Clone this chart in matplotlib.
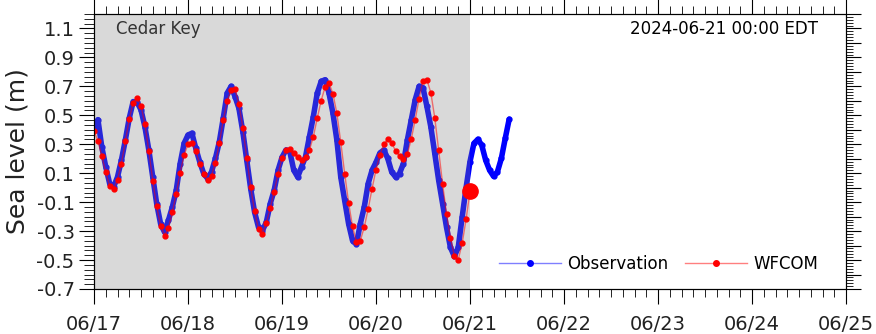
import numpy as np
import matplotlib
matplotlib.use('Agg')
import matplotlib.pyplot as plt
import matplotlib.dates as mdates
from matplotlib.lines import Line2D
from matplotlib.ticker import MultipleLocator
from datetime import datetime, timedelta

t0 = datetime(2024, 6, 17)

# observation, hourly readings from 06/17 00:00 (m)
obs = [0.42, 0.47, 0.28, 0.144, 0.028, 0.005, 0.074, 0.19, 0.329, 0.48,
       0.595, 0.59, 0.538, 0.42, 0.26, 0.074, -0.11, -0.249, -0.307, -0.226,
       -0.134, -0.018, 0.167, 0.306, 0.364, 0.376, 0.271, 0.178, 0.098, 0.063,
       0.109, 0.202, 0.317, 0.48, 0.653, 0.70, 0.63, 0.549, 0.387, 0.19,
       -0.006, -0.169, -0.273, -0.296, -0.238, -0.11, -0.018, 0.121, 0.21, 0.26,
       0.248, 0.121, 0.074, 0.144, 0.213, 0.352, 0.491, 0.653, 0.734, 0.746,
       0.653, 0.515, 0.33, 0.074, -0.088, -0.249, -0.365, -0.388, -0.249, -0.134,
       0.028, 0.121, 0.175, 0.24, 0.26, 0.202, 0.109, 0.074, 0.098, 0.167,
       0.329, 0.468, 0.607, 0.70, 0.69, 0.561, 0.42, 0.237, 0.051, -0.11,
       -0.273, -0.412, -0.475, -0.412, -0.203, 0.0, 0.18, 0.306, 0.334, 0.294,
       0.19, 0.121, 0.079, 0.109, 0.202, 0.341, 0.473]

# WFCOM model, hourly from 06/17 00:00 to 06/21 00:00 (m)
wfcom = [0.39, 0.324, 0.218, 0.107, 0.012, -0.009, 0.056, 0.167, 0.32, 0.475,
         0.588, 0.621, 0.567, 0.438, 0.253, 0.049, -0.129, -0.263, -0.331, -0.277,
         -0.169, -0.041, 0.102, 0.225, 0.301, 0.306, 0.251, 0.167, 0.093, 0.051,
         0.084, 0.172, 0.306, 0.468, 0.602, 0.672, 0.681, 0.577, 0.415, 0.206,
         0.005, -0.164, -0.284, -0.319, -0.243, -0.141, -0.027, 0.098, 0.204, 0.258,
         0.264, 0.237, 0.209, 0.19, 0.213, 0.26, 0.352, 0.48, 0.602, 0.695,
         0.723, 0.649, 0.515, 0.315, 0.098, -0.103, -0.268, -0.374, -0.365, -0.273,
         -0.148, -0.006, 0.124, 0.226, 0.302, 0.334, 0.308, 0.255, 0.218, 0.197,
         0.232, 0.336, 0.468, 0.616, 0.737, 0.746, 0.656, 0.484, 0.258, 0.026,
         -0.18, -0.347, -0.469, -0.497, -0.384, -0.219, -0.025]

t_obs = [t0 + timedelta(hours=i) for i in range(len(obs))]
t_mod = [t0 + timedelta(hours=i) for i in range(len(wfcom))]
t_now = datetime(2024, 6, 21)
t_end = datetime(2024, 6, 25)

fig = plt.figure(figsize=(8.76, 3.34), dpi=100)
ax = fig.add_axes([94/876, 1-289/334, (846-94)/876, (289-14)/334])

# observation band
ax.plot(t_obs, obs, color='blue', lw=4, solid_capstyle='round', zorder=2)
ax.plot(t_obs, obs, 'o', color='blue', ms=3.5, zorder=2)

# hindcast shading, drawn over the obs
ax.axvspan(t0, t_now, color='#838383', alpha=0.3, lw=0, zorder=2.5)

# model
ax.plot(t_mod, wfcom, color='red', alpha=0.5, lw=1, zorder=3)
ax.plot(t_mod, wfcom, 'o', color='red', ms=3.5, zorder=3)
ax.plot(t_mod[-1], wfcom[-1], 'o', color='red', ms=11, zorder=4)

ax.set_xlim(t0, t_end)
ax.set_ylim(-0.7, 1.2)

ax.xaxis.set_major_locator(mdates.DayLocator())
ax.xaxis.set_minor_locator(mdates.HourLocator(byhour=range(0, 24, 3)))
ax.xaxis.set_major_formatter(mdates.DateFormatter('%m/%d'))
ax.set_yticks(np.arange(-0.7, 1.15, 0.2))
ax.yaxis.set_minor_locator(MultipleLocator(0.2/6))
ax.yaxis.set_major_formatter(plt.FuncFormatter(lambda v, p: '%.1f' % v))

ax.tick_params(axis='x', which='major', direction='out', length=11, top=True,
               labelsize=14, labelcolor='#222222', pad=8)
ax.tick_params(axis='x', which='minor', direction='out', length=6, top=True)
ax.tick_params(axis='y', which='major', direction='out', length=11,
               labelsize=14, labelcolor='#222222', pad=3)
ax.tick_params(axis='y', which='minor', direction='out', length=7)

# right side ticks
ax2 = ax.twinx()
ax2.set_ylim(-0.7, 1.2)
ax2.yaxis.set_major_locator(MultipleLocator(0.1))
ax2.yaxis.set_minor_locator(MultipleLocator(0.02))
ax2.tick_params(axis='y', which='major', direction='out', length=11, labelright=False)
ax2.tick_params(axis='y', which='minor', direction='out', length=5)

ax.set_ylabel('Sea level (m)', fontsize=18, color='#222222', labelpad=5)

ax.text(0.029, 0.945, 'Cedar Key', transform=ax.transAxes, fontsize=12,
        color='#333333', ha='left', va='center')
ax.text(0.963, 0.945, '2024-06-21 00:00 EDT', transform=ax.transAxes, fontsize=12,
        color='black', ha='right', va='center')

h_obs = Line2D([], [], color=(0, 0, 1, 0.5), lw=1, marker='o', ms=4,
               mfc='blue', mec='blue')
h_mod = Line2D([], [], color=(1, 0, 0, 0.5), lw=1, marker='o', ms=4,
               mfc='red', mec='red')
ax.legend([h_obs, h_mod], ['Observation', 'WFCOM'], ncol=2, frameon=False,
          loc='center right', bbox_to_anchor=(0.983, 0.091), fontsize=12,
          handlelength=3.7, handletextpad=0.4, columnspacing=1.0)

fig.savefig('out.png', dpi=100)
